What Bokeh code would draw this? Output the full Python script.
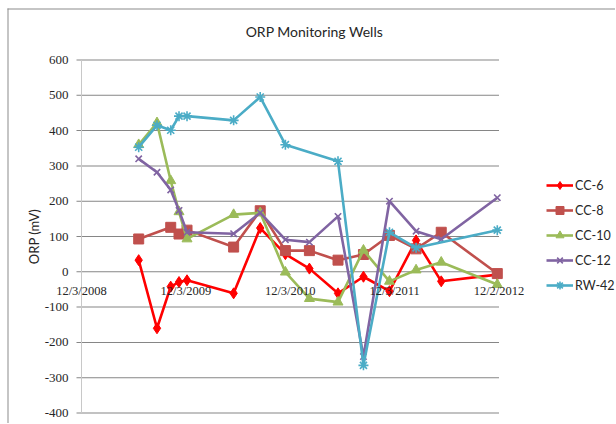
import math
import pandas as pd
from bokeh.plotting import figure
from bokeh.models import Legend, LegendItem, Range1d, LabelSet, Label, ColumnDataSource
from bokeh.embed import file_html
from bokeh.resources import INLINE

# ---- data ----
title_text = "ORP Monitoring Wells"
y_title = "ORP (mV)"
tick_dates = ["2008-12-03", "2009-12-03", "2010-12-03", "2011-12-03", "2012-12-02"]
tick_labels = ["12/3/2008", "12/3/2009", "12/3/2010", "12/3/2011", "12/2/2012"]
y_ticks = [-400, -300, -200, -100, 0, 100, 200, 300, 400, 500, 600]
y_tick_labels = ["-400", "-300", "-200", "-100", "0", "100", "200", "300", "400", "500", "600"]

dates_all = ["2009-06-21", "2009-08-24", "2009-10-11", "2009-11-09", "2009-12-07",
             "2010-05-19", "2010-08-20", "2010-11-16", "2011-02-08", "2011-05-19",
             "2011-08-16", "2011-11-15", "2012-02-16", "2012-05-14", "2012-11-26"]

cc6_dates = dates_all
cc6_vals = [33, -160, -42, -29, -24, -61, 124, 50, 9, -61, -14, -55, 89, -27, -8]

cc8_dates = ["2009-06-21", "2009-10-11", "2009-11-09", "2009-12-07",
             "2010-05-19", "2010-08-20", "2010-11-16", "2011-02-08", "2011-05-19",
             "2011-08-16", "2011-11-15", "2012-02-16", "2012-05-14", "2012-11-26"]
cc8_vals = [93, 126, 107, 118, 70, 173, 60, 60, 33, 49, 103, 65, 112, -5]

cc10_dates = dates_all
cc10_vals = [360, 422, 258, 170, 93, 162, 167, -1, -76, -86, 61, -27, 5, 27, -36]

cc12_dates = dates_all
cc12_vals = [320, 282, 232, 174, 112, 108, 167, 91, 84, 157, -240, 200, 115, 92, 210]

rw42_dates = ["2009-06-21", "2009-08-24", "2009-10-11", "2009-11-09", "2009-12-07",
              "2010-05-19", "2010-08-20", "2010-11-16", "2011-05-19",
              "2011-08-16", "2011-11-15", "2012-02-16", "2012-11-26"]
rw42_vals = [353, 415, 401, 441, 441, 429, 495, 360, 313, -265, 112, 68, 118]

series = [
    ("CC-6", cc6_dates, cc6_vals, "#FF0000", "diamond", 11),
    ("CC-8", cc8_dates, cc8_vals, "#C0504D", "square", 10),
    ("CC-10", cc10_dates, cc10_vals, "#9BBB59", "triangle", 10),
    ("CC-12", cc12_dates, cc12_vals, "#8064A2", "x", 9),
    ("RW-42", rw42_dates, rw42_vals, "#4BACC6", "asterisk", 10),
]

FONT = "Lato"
TXT = "#262626"
GRID = "#868686"
AXIS = "#C8C8C8"
BORDER = "#8C8C8C"

def ms(d):
    return float(pd.Timestamp(d).value // 10**6)

tick_ms = [ms(d) for d in tick_dates]

# ---- geometry (pixels, figure-relative; the plot area covers the whole figure) ----
W, H = 615, 423
AX_L, AX_R = 81, 498.5        # first / last date tick
Y_TOP_PX, Y_BOT_PX = 59.5, 412.5  # where 600 / -400 sit
TICK_LEN = 5
BORDER_X, BORDER_Y = 7, 8     # chart-area border (left / top)
TITLE_X, TITLE_Y = 314, 31    # title centre

px_per_ms = (AX_R - AX_L) / (tick_ms[-1] - tick_ms[0])
x_start = tick_ms[0] - AX_L / px_per_ms
x_end = x_start + W / px_per_ms
px_per_unit = (Y_BOT_PX - Y_TOP_PX) / (y_ticks[-1] - y_ticks[0])
y_top = y_ticks[-1] + Y_TOP_PX / px_per_unit
y_bot = y_top - H / px_per_unit

def xd(px):
    return x_start + px / px_per_ms

def yd(px):
    return y_top - px / px_per_unit

p = figure(width=W, height=H, x_axis_type="datetime", title=None,
           output_backend="svg", toolbar_location=None,
           x_range=Range1d(x_start, x_end), y_range=Range1d(y_bot, y_top),
           min_border_left=0, min_border_right=0, min_border_top=0, min_border_bottom=0)
p.outline_line_color = None
p.xaxis.visible = False
p.yaxis.visible = False
p.xgrid.visible = False
p.ygrid.visible = False

# chart-area border (left and top edges; the others fall outside the window)
p.vbar(x=[xd(BORDER_X + 0.5)], bottom=y_bot, top=yd(BORDER_Y), width=1.0 / px_per_ms,
       fill_color=BORDER, line_color=None)
p.hbar(y=[yd(BORDER_Y + 0.5)], left=xd(BORDER_X), right=x_end, height=1.0 / px_per_unit,
       fill_color=BORDER, line_color=None)

# gridlines (1px bars) across the dated span, with short outward ticks
p.hbar(y=y_ticks, left=tick_ms[0] - TICK_LEN / px_per_ms, right=tick_ms[-1],
       height=1.0 / px_per_unit, fill_color=GRID, line_color=None)
# value axis line
p.vbar(x=[tick_ms[0]], bottom=y_ticks[0], top=y_ticks[-1], width=1.0 / px_per_ms,
       fill_color=AXIS, line_color=None)

# title
p.add_layout(Label(x=xd(TITLE_X), y=yd(TITLE_Y), text=title_text,
                   text_align="center", text_baseline="middle",
                   text_font=FONT, text_font_size="14px", text_color=TXT))

# value tick labels
ysrc = ColumnDataSource(dict(x=[tick_ms[0]] * len(y_ticks), y=y_ticks, text=y_tick_labels))
p.add_layout(LabelSet(x="x", y="y", text="text", source=ysrc, x_offset=-13,
                      text_align="right", text_baseline="middle",
                      text_font=FONT, text_font_size="13px", text_color=TXT))
# date tick labels under the zero line
xsrc = ColumnDataSource(dict(x=tick_ms, y=[0] * len(tick_ms), text=tick_labels))
p.add_layout(LabelSet(x="x", y="y", text="text", source=xsrc, y_offset=-19,
                      text_align="center", text_baseline="middle",
                      text_font=FONT, text_font_size="12.5px", text_color=TXT))
# value axis title
p.add_layout(Label(x=tick_ms[0], y=(y_ticks[0] + y_ticks[-1]) / 2, x_offset=-48,
                   text=y_title, angle=math.pi / 2, text_align="center",
                   text_baseline="middle", text_font=FONT, text_font_size="13px",
                   text_color=TXT))

items = []
for name, ds, vs, col, mk, sz in series:
    xs = [ms(d) for d in ds]
    ln = p.line(xs, vs, line_color=col, line_width=2.6)
    if mk in ("x", "asterisk"):
        sc = p.scatter(xs, vs, marker=mk, size=sz, line_color=col, line_width=1.6)
    else:
        sc = p.scatter(xs, vs, marker=mk, size=sz, fill_color=col, line_color=col)
    items.append(LegendItem(label=name, renderers=[ln, sc]))

leg = Legend(items=items, location=(546, 128))
leg.border_line_color = None
leg.background_fill_alpha = 0
leg.glyph_width = 27
leg.glyph_height = 20
leg.label_height = 20
leg.spacing = 5
leg.padding = 0
leg.margin = 0
leg.label_standoff = 2
leg.label_text_font = FONT
leg.label_text_font_size = "12.5px"
leg.label_text_color = TXT
p.add_layout(leg, "center")

open("out.html", "w").write(file_html(p, INLINE))
